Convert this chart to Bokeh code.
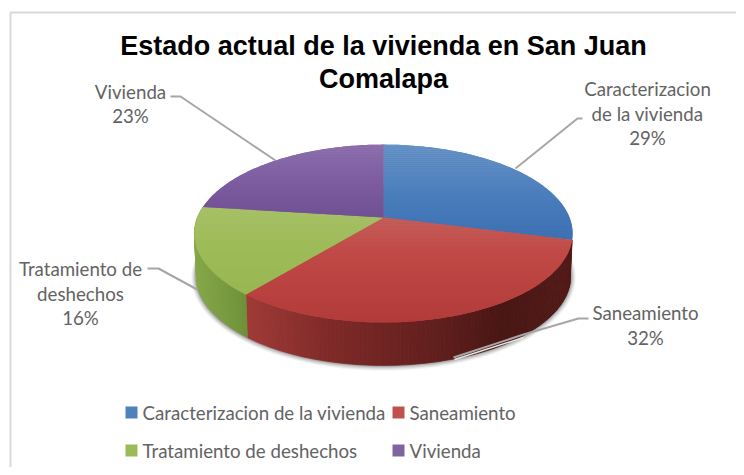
import math
from bokeh.plotting import figure
from bokeh.models import Range1d
from bokeh.core.properties import value
from bokeh.embed import file_html
from bokeh.resources import INLINE

title_lines = ["Estado actual de la vivienda en San Juan", "Comalapa"]
categories = ["Caracterizacion de la vivienda", "Saneamiento", "Tratamiento de deshechos", "Vivienda"]
percentages = [29, 32, 16, 23]
label_lines = [["Caracterizacion", "de la vivienda", "29%"], ["Saneamiento", "32%"],
               ["Tratamiento de", "deshechos", "16%"], ["Vivienda", "23%"]]

LEGEND = ["#4f81bd", "#c0504d", "#9bbb59", "#8064a2"]
FACE_STOPS = [
    [(0.0, "#6a94c6"), (0.55, "#4a7dbc"), (1.0, "#3a6eb0")],
    [(0.0, "#c4605c"), (0.35, "#c04946"), (1.0, "#b03a38")],
    [(0.0, "#a8c168"), (0.5, "#9dbb58"), (1.0, "#97b650")],
    [(0.0, "#8e72ae"), (0.5, "#7d5ca0"), (1.0, "#6e4f90")],
]
WALL_STOPS = {
    1: [(0.0, "#a03a37"), (0.25, "#7f2a28"), (0.6, "#5f1e1c"), (0.78, "#491614"), (1.0, "#521a18")],
    2: [(0.0, "#86a848"), (1.0, "#6f9038")],
}

K, CX, CY, AX, BY = 0.18, 383.0, 217.0, 186.0, 86.0
BCX, BCY, BAX, BBY = 383.0, 260.0, 184.0, 86.0


def hex2rgb(c):
    return tuple(int(c[i:i + 2], 16) for i in (1, 3, 5))


def ramp(stops, t):
    t = max(0.0, min(1.0, t))
    for (a, ca), (b, cb) in zip(stops, stops[1:]):
        if t <= b:
            f = (t - a) / (b - a)
            ra, rb = hex2rgb(ca), hex2rgb(cb)
            return "#%02x%02x%02x" % tuple(round(x + (y - x) * f) for x, y in zip(ra, rb))
    return stops[-1][1]


def top(theta):
    u, v = math.sin(theta), -math.cos(theta)
    w = 1 - K * v
    return CX + AX * u / w, CY + BY * v / w


def bot(theta):
    u, v = math.sin(theta), -math.cos(theta)
    w = 1 - K * v
    return BCX + BAX * u / w, BCY + BBY * v / w


def clip_band(poly, y0, y1):
    def clip(pts, inside, cross):
        out = []
        for i, a in enumerate(pts):
            b = pts[(i + 1) % len(pts)]
            if inside(a):
                out.append(a)
                if not inside(b):
                    out.append(cross(a, b))
            elif inside(b):
                out.append(cross(a, b))
        return out

    def cross_at(yv):
        def f(a, b):
            t = (yv - a[1]) / (b[1] - a[1])
            return a[0] + (b[0] - a[0]) * t, yv
        return f

    r = clip(poly, lambda q: q[1] >= y0, cross_at(y0))
    if r:
        r = clip(r, lambda q: q[1] <= y1, cross_at(y1))
    return r


p = figure(width=736, height=467, output_backend="svg", toolbar_location=None,
           x_range=Range1d(0, 736), y_range=Range1d(467, 0), min_border=0,
           outline_line_color=None, background_fill_color="white", border_fill_color="white")
p.axis.visible = False
p.grid.visible = False

# frame of the chart area
p.line([10, 10, 736], [467, 12, 12], line_color="#d9d9d9", line_width=2)

# soft shadow under the pie
ring = [bot(2 * math.pi * i / 240) for i in range(240)]
for grow, alpha in [(5, 0.06), (4, 0.08), (3, 0.1), (2, 0.14), (1, 0.2)]:
    xs = [BCX + (x - BCX) * (1 + grow / 184) for x, y in ring]
    ys = [BCY + (y - BCY) * (1 + grow / 100) for x, y in ring]
    p.patch(xs, ys, fill_color="#303030", fill_alpha=alpha, line_color=None)

# angular boundaries of the slices come from the values
total = sum(percentages)
edges = [0.0]
for val in percentages:
    edges.append(edges[-1] + 2 * math.pi * val / total)

# leader lines that lie behind the pie
p.line([170, 180, 275], [96, 96, 160], line_color="#a6a6a6", line_width=2)
p.line([582, 577, 515], [118, 118, 168], line_color="#a6a6a6", line_width=2)
p.line([147, 158, 204], [268, 268, 293], line_color="#a6a6a6", line_width=2)

# side wall: thin strips following the rim
for idx, stops in WALL_STOPS.items():
    a0, a1 = edges[idx], edges[idx + 1]
    n = 110 if idx == 1 else 30
    if idx == 2:
        a1 = min(a1, 3 * math.pi / 2 + 0.25)
    for i in range(n):
        t0 = a0 + (a1 - a0) * i / n
        t1 = a0 + (a1 - a0) * (i + 1) / n
        pts = [top(t0), top(t1), bot(t1), bot(t0)]
        xm = (pts[0][0] + pts[1][0]) / 2
        if idx == 1:
            f = (xm - 246) / (572 - 246)
        else:
            f = (xm - 194) / (246 - 194)
        c = ramp(stops, f)
        p.patch([q[0] for q in pts], [q[1] for q in pts], fill_color=c, line_color=c, line_width=0.8)

# top faces: a base slice, then pixel-aligned bands for the vertical gradient
for idx in range(4):
    a0, a1 = edges[idx], edges[idx + 1]
    arc = [top(a0 + (a1 - a0) * i / 80) for i in range(81)]
    poly = [(CX, CY)] + arc
    ymin = min(q[1] for q in poly)
    ymax = max(q[1] for q in poly)
    p.patch([q[0] for q in poly], [q[1] for q in poly], fill_color=FACE_STOPS[idx][1][1], line_color=None)
    y = math.floor(ymin)
    while y < ymax:
        piece = clip_band(poly, y, y + 2)
        if len(piece) >= 3:
            c = ramp(FACE_STOPS[idx], (y + 1 - ymin) / (ymax - ymin))
            p.patch([q[0] for q in piece], [q[1] for q in piece], fill_color=c, line_color=None)
        y += 2

# leader that crosses the wall
p.line([454, 523], [359, 337], line_color="#e6e6e6", line_width=1.5)
p.line([453, 523, 578, 588], [357, 334, 318, 318], line_color="#a6a6a6", line_width=2)

# data labels
FONT = value("Lato")
label_centers = [(647, [88, 113, 137]), (645, [312, 337]), (80, [268, 293, 317]), (130, [91, 115])]
for lines, (cx, ys) in zip(label_lines, label_centers):
    p.text([cx] * len(lines), ys, text=lines, text_font=FONT, text_font_size="18.7px",
           text_color="#636363", text_align="center", text_baseline="middle")

# title
p.text([383, 383], [45, 78], text=title_lines, text_font=value("Liberation Sans"), text_font_style="bold",
       text_font_size="27px", text_color="#000000", text_align="center", text_baseline="middle")

# legend
legend_squares = [(131, 412), (398, 412), (131, 450), (398, 450)]
legend_text_x = [142, 409, 142, 409]
for name, col, (sx, sy), tx in zip(categories, LEGEND, legend_squares, legend_text_x):
    p.scatter([sx], [sy], marker="square", size=12, fill_color=col, line_color=None)
    p.text([tx], [sy], text=[name], text_font=FONT, text_font_size="18.7px", text_color="#636363",
           text_align="left", text_baseline="middle")

open("out.html", "w").write(file_html(p, INLINE))
